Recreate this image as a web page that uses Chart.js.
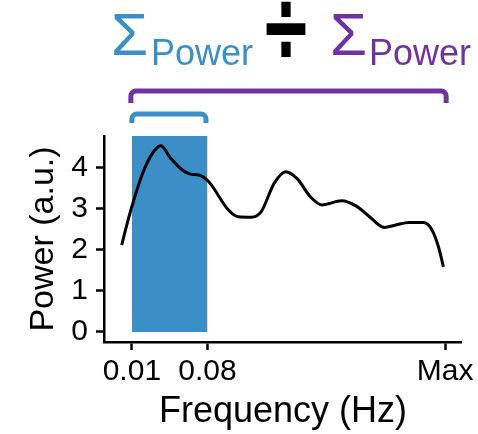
<!DOCTYPE html>
<html>
<head>
<meta charset="utf-8">
<script src="https://cdn.jsdelivr.net/npm/chart.js@4.4.1/dist/chart.umd.min.js"></script>
<style>
    html, body { margin: 0; padding: 0; background: #fff; }
</style>
</head>
<body>
<canvas id="psdChart" width="478" height="434"></canvas>
<script>
// spectrum
const freqHz = [0.0006, 0.0049, 0.01, 0.02, 0.0292, 0.0368, 0.0458, 0.0566, 0.0642, 0.0718,
                0.081, 0.0992, 0.1083, 0.1205, 0.1296, 0.1418, 0.1524, 0.163, 0.1752, 0.1859,
                0.2041, 0.2178, 0.23, 0.2436, 0.2543, 0.2665, 0.28, 0.2878, 0.2938, 0.2984];
const powerAU = [2.12, 2.57, 3.06, 3.87, 4.36, 4.54, 4.24, 3.95, 3.85, 3.83,
                 3.67, 2.98, 2.81, 2.80, 2.93, 3.63, 3.91, 3.74, 3.30, 3.10,
                 3.20, 3.07, 2.81, 2.55, 2.61, 2.67, 2.67, 2.49, 2.08, 1.59];

const bandHz = [0.01, 0.08];
const xTickValues = [0.01, 0.08, 0.30];
const xTickLabels = ['0.01', '0.08', 'Max'];
const yTickValues = [0, 1, 2, 3, 4];
const xRange = [-0.0158, 0.3155];
const yRange = [-0.244, 4.78];

const BLUE = '#3b8fc6';
const PURPLE = '#7131a1';
const FONT = '"Liberation Sans", Arial, Helvetica, sans-serif';

// bracket shape with rounded corners
function bracket(ctx, x0, x1, y, yLeg, r) {
    ctx.beginPath();
    ctx.moveTo(x0, yLeg);
    ctx.lineTo(x0, y + r);
    ctx.arcTo(x0, y, x0 + r, y, r);
    ctx.lineTo(x1 - r, y);
    ctx.arcTo(x1, y, x1, y + r, r);
    ctx.lineTo(x1, yLeg);
    ctx.stroke();
}

const headline = {
    id: 'headline',
    afterDraw(chart) {
        const ctx = chart.ctx;
        const xs = chart.scales.x;
        ctx.save();
        ctx.textAlign = 'left';
        ctx.textBaseline = 'alphabetic';

        ctx.fillStyle = BLUE;
        ctx.font = '60px ' + FONT;
        ctx.fillText('Σ', 111, 55);
        ctx.font = '36px ' + FONT;
        ctx.fillText('Power', 151, 65);

        ctx.fillStyle = '#000';
        ctx.font = 'bold 62px "DejaVu Sans"';
        ctx.translate(260, 61);
        ctx.scale(1, 1.63);
        ctx.fillText('÷', 0, 0);
        ctx.setTransform(1, 0, 0, 1, 0, 0);

        ctx.fillStyle = PURPLE;
        ctx.font = '60px ' + FONT;
        ctx.fillText('Σ', 330, 55);
        ctx.font = '36px ' + FONT;
        ctx.fillText('Power', 369, 65);

        ctx.lineWidth = 5;
        ctx.lineCap = 'butt';
        ctx.strokeStyle = PURPLE;
        bracket(ctx, xs.getPixelForValue(xTickValues[0]) - 1, xs.getPixelForValue(xTickValues[2]) + 1, 91, 103, 5);
        ctx.strokeStyle = BLUE;
        bracket(ctx, xs.getPixelForValue(bandHz[0]), xs.getPixelForValue(bandHz[1]) - 1.5, 114, 123, 5);
        ctx.restore();
    }
};

new Chart(document.getElementById('psdChart'), {
    type: 'line',
    data: {
        datasets: [
            {
                data: freqHz.map((f, i) => ({ x: f, y: powerAU[i] })),
                borderColor: '#000',
                borderWidth: 3,
                pointRadius: 0,
                cubicInterpolationMode: 'monotone',
                fill: false,
                order: 0
            },
            {
                data: bandHz.map(f => ({ x: f, y: yRange[1] })),
                borderWidth: 0,
                borderColor: 'rgba(0,0,0,0)',
                backgroundColor: BLUE,
                pointRadius: 0,
                fill: 'origin',
                order: 1
            }
        ]
    },
    options: {
        responsive: false,
        animation: false,
        devicePixelRatio: 1,
        layout: { padding: { left: 0, right: 11, top: 136, bottom: 0 } },
        plugins: { legend: { display: false }, tooltip: { enabled: false } },
        scales: {
            x: {
                type: 'linear',
                min: xRange[0],
                max: xRange[1],
                afterFit: s => { s.height = 92; },
                afterBuildTicks: s => { s.ticks = xTickValues.map(v => ({ value: v })); },
                ticks: {
                    autoSkip: false,
                    maxRotation: 0,
                    padding: 4,
                    color: '#000',
                    font: { family: FONT, size: 30 },
                    callback: (v) => xTickLabels[xTickValues.indexOf(v)]
                },
                grid: { drawOnChartArea: false, drawTicks: true, tickLength: 8, tickColor: '#000', tickWidth: 2.5 },
                border: { display: true, color: '#000', width: 2.5 },
                title: {
                    display: true,
                    text: 'Frequency (Hz)',
                    color: '#000',
                    font: { family: FONT, size: 36, lineHeight: 1.2 },
                    padding: { top: 0, bottom: 0 }
                }
            },
            y: {
                min: yRange[0],
                max: yRange[1],
                afterFit: s => { s.width = 104; },
                afterBuildTicks: s => { s.ticks = yTickValues.map(v => ({ value: v })); },
                ticks: {
                    padding: 8,
                    color: '#000',
                    font: { family: FONT, size: 30 },
                    callback: v => String(v)
                },
                grid: { drawOnChartArea: false, drawTicks: true, tickLength: 8, tickColor: '#000', tickWidth: 2.5 },
                border: { display: true, color: '#000', width: 2.5 },
                title: {
                    display: true,
                    text: 'Power (a.u.)',
                    color: '#000',
                    font: { family: FONT, size: 34, lineHeight: 1.2 },
                    padding: { top: 23, bottom: 0 }
                }
            }
        }
    },
    plugins: [headline]
});
</script>
</body>
</html>
